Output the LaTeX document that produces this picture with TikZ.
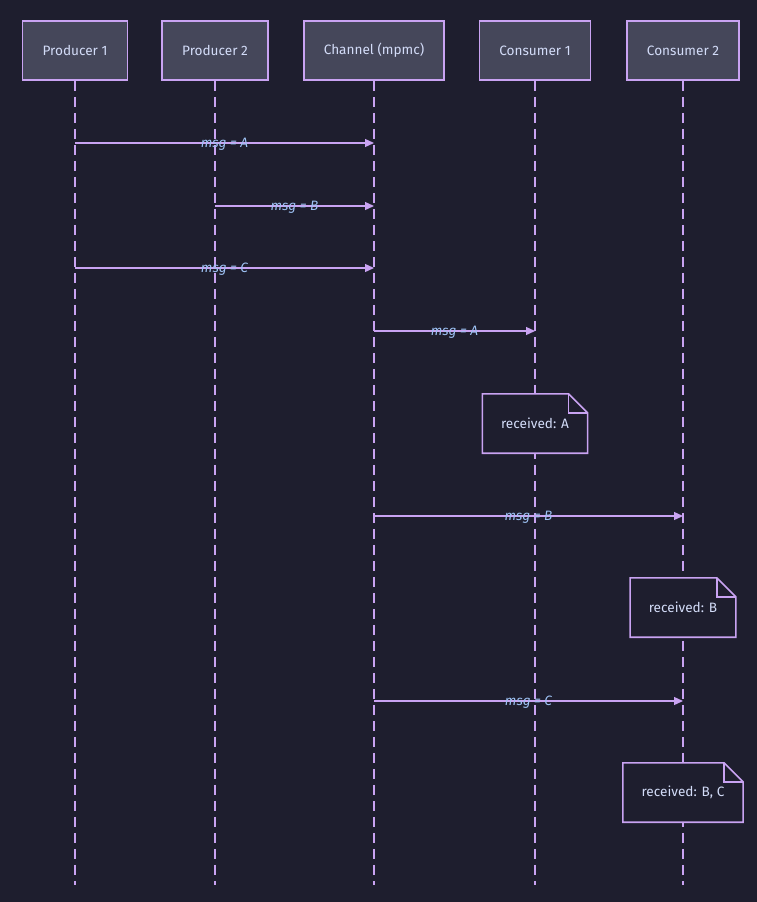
\documentclass[tikz,border=0pt]{standalone}
\usepackage{fontspec}
\setmainfont{Fira Sans}
\usetikzlibrary{arrows.meta,positioning,calc}
\definecolor{mochabase}{HTML}{1E1E2E}
\definecolor{mochasurf}{HTML}{45475A}
\definecolor{mochamauve}{HTML}{C9A3F2}
\definecolor{mochatext}{HTML}{D3DCF8}
\definecolor{mochablue}{HTML}{9EC2F4}

\begin{document}
\begin{tikzpicture}[
    x=1pt,y=-1pt,
    acteur/.style  = {rectangle, draw=mochamauve, fill=mochasurf, line width=1.6pt,
                      text=mochatext, font=\fontsize{13.6}{16}\selectfont,
                      minimum height=59pt, inner xsep=20pt},
    vie/.style     = {mochamauve, line width=1.4pt, dash pattern=on 10pt off 6pt},
    msg/.style     = {-{Triangle[length=9pt,width=8pt]}, mochamauve, line width=1.3pt},
    et/.style      = {font=\fontsize{13.6}{16}\selectfont\itshape, text=mochablue,
                      inner sep=1pt, yshift=-1.5pt},
    note/.style    = {rectangle, fill=mochabase, text=mochatext,
                      font=\fontsize{13.6}{16}\selectfont,
                      minimum height=59pt, inner xsep=18.5pt},
    noteline/.style= {mochamauve, line width=1.6pt, line join=miter},
  ]

  % fond
  \fill[mochabase] (0,0) rectangle (757,902);
  \useasboundingbox (0,0) rectangle (757,902);

  % participants
  \node[acteur] (p1) at (75,50.5)  {Producer 1};
  \node[acteur] (p2) at (215,50.5) {Producer 2};
  \node[acteur] (ch) at (374,50.5) {Channel (mpmc)};
  \node[acteur] (c1) at (535,50.5) {Consumer 1};
  \node[acteur] (c2) at (683,50.5) {Consumer 2};

  % lignes de vie
  \foreach \p in {p1,p2,ch,c1,c2} {
    \coordinate (\p-bas) at (\p.south |- 0,885);
    \draw[vie] (\p.south) -- (\p-bas);
  }

  % messages
  \foreach \n/\a/\b/\y/\t in {1/p1/ch/143/A, 2/p2/ch/206/B, 3/p1/ch/268/C,
                               4/ch/c1/331/A, 5/ch/c2/516/B, 6/ch/c2/701/C} {
    \coordinate (m\n-a) at (\a.south |- 0,\y);
    \coordinate (m\n-b) at (\b.south |- 0,\y);
    \draw[msg] (m\n-a) -- node[et] {msg = \t} (m\n-b);
  }

  % notes
  \foreach \n/\x/\y/\t in {1/535/423.5/{received: A}, 2/683/607.5/{received: B},
                           3/683/792.5/{received: B, C}} {
    \node[note] (n\n) at (\x,\y) {\t};
    \draw[noteline] (n\n.north west) -- ([xshift=-19pt]n\n.north east)
      -- ([yshift=-19pt]n\n.north east) -- (n\n.south east)
      -- (n\n.south west) -- cycle;
    \draw[noteline] ([xshift=-19pt]n\n.north east) -- ++(0,19)
      -- ([yshift=-19pt]n\n.north east);
  }

\end{tikzpicture}
\end{document}
